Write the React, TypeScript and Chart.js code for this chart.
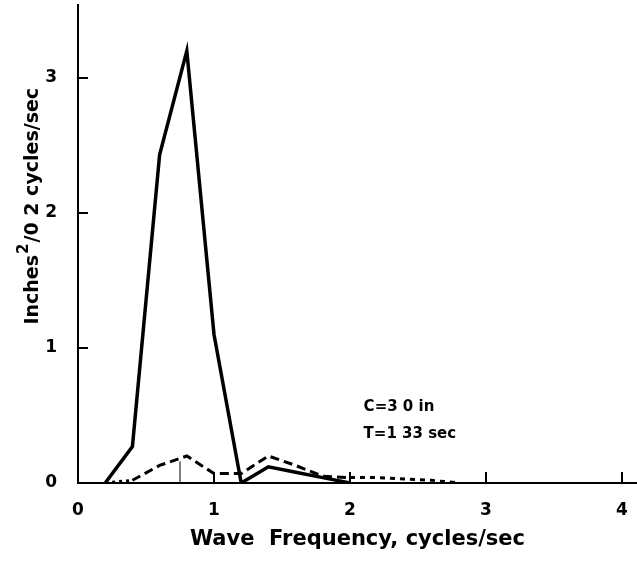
import React, { useEffect, useRef } from 'react';
import { Chart, registerables } from 'chart.js';

Chart.register(...registerables);

// Solid curve
const solidFreq = [0.2, 0.4, 0.6, 0.8, 1.0, 1.2, 1.4, 1.6, 1.8, 2.0];
const solidValues = [0, 0.27, 2.43, 3.2, 1.1, 0, 0.12, 0.08, 0.04, 0];

// Dashed curve
const dashFreq = [0.2, 0.4, 0.6, 0.8, 1.0, 1.2, 1.4, 1.6, 1.8, 2.0, 2.2, 2.4, 2.6, 2.8];
const dashValues = [0, 0.02, 0.13, 0.2, 0.07, 0.07, 0.2, 0.13, 0.05, 0.04, 0.04, 0.03, 0.02, 0];

// thin vertical mark
const markFreq = [0.75, 0.75];
const markValues = [0, 0.16];

const xTicks = [0, 1, 2, 3, 4];
const yTicks = [0, 1, 2, 3];

const notes = ['C=3 0 in', 'T=1 33 sec'];
const noteX = 2.1;
const noteY = [0.56, 0.36];

const yTitleMain = 'Inches';
const yTitleSup = '2';
const yTitleRest = '/0 2 cycles/sec';
const yTitleCenter = 2.05;

const FONT = '"DejaVu Sans", sans-serif';

const innerTicks = {
  id: 'innerTicks',
  afterDraw(chart: any) {
    const { ctx, scales } = chart;
    const x = scales.x;
    const y = scales.y;
    ctx.save();
    ctx.strokeStyle = '#000';
    ctx.lineWidth = 2;
    xTicks.forEach((v) => {
      if (v === 0) return;
      const px = Math.round(x.getPixelForValue(v));
      ctx.beginPath();
      ctx.moveTo(px, y.bottom);
      ctx.lineTo(px, y.bottom - 11);
      ctx.stroke();
    });
    yTicks.forEach((v) => {
      if (v === 0) return;
      const py = Math.round(y.getPixelForValue(v));
      ctx.beginPath();
      ctx.moveTo(x.left, py);
      ctx.lineTo(x.left + 10, py);
      ctx.stroke();
    });
    ctx.fillStyle = '#000';
    ctx.font = 'bold 15px ' + FONT;
    ctx.textBaseline = 'middle';
    ctx.textAlign = 'left';
    notes.forEach((t, i) => {
      ctx.fillText(t, x.getPixelForValue(noteX), y.getPixelForValue(noteY[i]));
    });

    // rotated y title with a large superscript
    const mainFont = 'bold 19px ' + FONT;
    const supFont = 'bold 15px ' + FONT;
    ctx.font = mainFont;
    const w1 = ctx.measureText(yTitleMain).width;
    const w3 = ctx.measureText(yTitleRest).width;
    ctx.font = supFont;
    const w2 = ctx.measureText(yTitleSup).width + 2;
    const total = w1 + w2 + w3;
    ctx.translate(31, y.getPixelForValue(yTitleCenter));
    ctx.rotate(-Math.PI / 2);
    ctx.textAlign = 'left';
    ctx.textBaseline = 'middle';
    let cx = -total / 2;
    ctx.font = mainFont;
    ctx.fillText(yTitleMain, cx, 2);
    cx += w1;
    ctx.font = supFont;
    ctx.fillText(yTitleSup, cx + 1, -7);
    cx += w2;
    ctx.font = mainFont;
    ctx.fillText(yTitleRest, cx, 2);
    ctx.restore();
  },
};

export default function App() {
  const ref = useRef<HTMLCanvasElement | null>(null);

  useEffect(() => {
    if (!ref.current) return;
    const toXY = (xs: number[], ys: number[]) => xs.map((v, i) => ({ x: v, y: ys[i] }));
    const chart = new Chart(ref.current, {
      type: 'line',
      data: {
        datasets: [
          {
            data: toXY(solidFreq, solidValues),
            borderColor: '#000',
            borderWidth: 3.5,
            pointRadius: 0,
            tension: 0,
            fill: false,
          },
          {
            data: toXY(dashFreq, dashValues),
            borderColor: '#000',
            borderWidth: 3,
            borderDash: [9, 5],
            pointRadius: 0,
            tension: 0,
            fill: false,
            segment: {
              borderDash: (c: any) =>
                c.p0.parsed.x >= 1.95 ? [5, 5] : c.p1.parsed.x <= 0.41 ? [3, 4] : undefined,
            },
          },
          {
            data: toXY(markFreq, markValues),
            borderColor: '#000',
            borderWidth: 1,
            pointRadius: 0,
            fill: false,
          },
        ],
      },
      options: {
        responsive: false,
        maintainAspectRatio: false,
        devicePixelRatio: 1,
        animation: false,
        layout: { padding: { top: 5, right: 0, left: 0, bottom: 0 } },
        plugins: { legend: { display: false }, tooltip: { enabled: false } },
        scales: {
          x: {
            type: 'linear',
            min: 0,
            max: 4.11,
            afterBuildTicks: (s: any) => {
              s.ticks = xTicks.map((v) => ({ value: v }));
            },
            afterFit: (s: any) => {
              s.height = 79;
              s.paddingLeft = 0;
              s.paddingRight = 0;
              s.paddingTop = 0;
              s.paddingBottom = 0;
            },
            grid: { display: false, drawTicks: false },
            border: { display: true, color: '#000', width: 2 },
            ticks: {
              color: '#000',
              font: { family: FONT, size: 17, weight: 'bold' },
              padding: 17,
              maxRotation: 0,
              callback: (v: any) => String(v),
            },
            title: {
              display: true,
              text: 'Wave  Frequency, cycles/sec',
              color: '#000',
              font: { family: FONT, size: 21, weight: 'bold' },
              padding: { top: 0, bottom: 10 },
            },
          },
          y: {
            type: 'linear',
            min: 0,
            max: 3.54,
            afterBuildTicks: (s: any) => {
              s.ticks = yTicks.map((v) => ({ value: v }));
            },
            afterFit: (s: any) => {
              s.width = 78;
              s.paddingLeft = 0;
              s.paddingRight = 0;
              s.paddingTop = 0;
              s.paddingBottom = 0;
            },
            grid: { display: false, drawTicks: false },
            border: { display: true, color: '#000', width: 2 },
            ticks: {
              color: '#000',
              font: { family: FONT, size: 17, weight: 'bold' },
              padding: 21,
              callback: (v: any) => String(v),
            },
            title: { display: false },
          },
        },
      },
      plugins: [innerTicks],
    } as any);
    return () => chart.destroy();
  }, []);

  return (
    <div style={{ position: 'fixed', left: 0, top: 0, width: 637, height: 562, background: '#fff' }}>
      <canvas ref={ref} width={637} height={562} style={{ width: 637, height: 562 }} />
    </div>
  );
}
